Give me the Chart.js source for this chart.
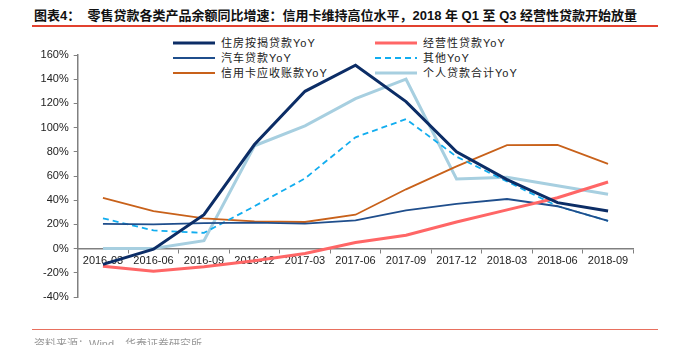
<!DOCTYPE html>
<html>
<head>
<meta charset="utf-8">
<script src="https://cdn.jsdelivr.net/npm/chart.js@4.4.1/dist/chart.umd.min.js"></script>
<style>
  html, body { margin: 0; padding: 0; background: #fff; }
  #wrap { position: relative; width: 673px; height: 345px; overflow: hidden; font-family: "Liberation Sans", Arial, sans-serif; }
  #chart { position: absolute; left: 0; top: 0; }
  .title { position: absolute; left: 34px; top: 8px; font-size: 13px; font-weight: bold; line-height: 16px; color: #111; white-space: nowrap;
           font-family: "Liberation Sans", Arial, "Noto Sans CJK SC", sans-serif; }
  .rule { position: absolute; left: 32px; width: 626px; height: 1.5px; background: #e2412f; }
  .source { position: absolute; left: 34px; top: 335px; font-size: 11px; color: #999; white-space: nowrap;
            font-family: "Liberation Sans", Arial, "Noto Sans CJK SC", sans-serif; }
  .leg { position: absolute; height: 14px; font-size: 11px; line-height: 14px; color: #222; white-space: nowrap;
         font-family: "Liberation Sans", Arial, "Noto Sans CJK SC", sans-serif; letter-spacing: 1px; }
  .leg svg { position: absolute; left: 0; top: 0; }
  .leg span { position: absolute; left: 48px; top: 0; }
</style>
</head>
<body>
<div id="wrap">
  <div class="title">图表4：&nbsp;&nbsp;零售贷款各类产品余额同比增速：信用卡维持高位水平，2018 年 Q1 至 Q3 经营性贷款开始放量</div>
  <div class="rule" style="top:25px"></div>
  <div id="legend"></div>
  <canvas id="chart" width="673" height="345"></canvas>
  <div class="rule" style="top:328.5px; background:#e8705f"></div>
  <div class="source">资料来源：Wind，华泰证券研究所</div>
</div>
<script>
// data (%)
const categories = ['2016-03', '2016-06', '2016-09', '2016-12', '2017-03', '2017-06',
                    '2017-09', '2017-12', '2018-03', '2018-06', '2018-09'];
const seriesNames = ['住房按揭贷款YoY', '经营性贷款YoY', '汽车贷款YoY', '其他YoY', '信用卡应收账款YoY', '个人贷款合计YoY'];
const mortgage   = [-13, -0.5, 28, 86, 130, 151.5, 121.5, 80, 57, 38, 31];
const business   = [-14.5, -18.7, -15, -10, -4, 5, 11, 22, 32, 42, 55];
const autoLoan   = [20.4, 20, 21, 21.5, 20.6, 23.4, 31.6, 37, 41, 35, 23];
const other      = [25, 15, 13, 35, 58, 92, 107, 76, 55.5, 35, 23];
const creditCard = [42, 31, 25, 22.5, 22, 28, 49, 68, 85.5, 85.7, 70];
const total      = [0, 0, 6.6, 85, 101.5, 124, 140, 57.5, 59, 52, 45];
const yTicks = [-40, -20, 0, 20, 40, 60, 80, 100, 120, 140, 160];

const colors = ['#0c2d66', '#ff6666', '#1f4e8c', '#12adef', '#c8611a', '#a7cfe0'];
const widths = [3, 3, 1.8, 1.8, 1.8, 3];
const dashes = [[], [], [], [6, 4], [], []];
const values = [mortgage, business, autoLoan, other, creditCard, total];

const datasets = seriesNames.map((name, i) => ({
  label: name,
  data: values[i],
  borderColor: colors[i],
  backgroundColor: colors[i],
  borderWidth: widths[i],
  borderDash: dashes[i],
  pointRadius: 0,
  tension: 0,
  fill: false
}));

// legend in two columns, three rows
const legendPos = [[173, 36], [375, 36], [173, 51], [375, 51], [173, 66], [375, 66]];
const legendEl = document.getElementById('legend');
datasets.forEach((ds, i) => {
  const item = document.createElement('div');
  item.className = 'leg';
  item.style.left = legendPos[i][0] + 'px';
  item.style.top = legendPos[i][1] + 'px';
  item.innerHTML = '<svg width="44" height="14"><line x1="0" y1="7" x2="42" y2="7" stroke="' + ds.borderColor +
    '" stroke-width="' + ds.borderWidth + '"' + (ds.borderDash.length ? ' stroke-dasharray="' + ds.borderDash.join(',') + '"' : '') +
    '/></svg><span>' + ds.label + '</span>';
  legendEl.appendChild(item);
});

const axisGrey = '#808080';
const ctx = document.getElementById('chart').getContext('2d');
new Chart(ctx, {
  type: 'line',
  data: { labels: categories, datasets: datasets },
  options: {
    responsive: false,
    animation: false,
    layout: { padding: { left: 0, top: 55, right: 39.7, bottom: 48 } },
    plugins: { legend: { display: false }, tooltip: { enabled: false } },
    scales: {
      x: {
        position: { y: 0 },
        offset: true,
        grid: { display: true, offset: true, drawOnChartArea: false, tickLength: 4, color: axisGrey, lineWidth: 1 },
        border: { display: true, color: axisGrey, width: 1.5 },
        ticks: { color: '#222', font: { size: 11, family: '"Liberation Sans", Arial' }, padding: 2, maxRotation: 0, autoSkip: false },
        afterFit: scale => { scale.height = 0; }
      },
      y: {
        min: -40,
        max: 160,
        afterBuildTicks: scale => { scale.ticks = yTicks.map(v => ({ value: v })); },
        grid: { display: true, drawOnChartArea: false, tickLength: 4, color: axisGrey, lineWidth: 1 },
        border: { display: true, color: axisGrey, width: 1.5 },
        ticks: { color: '#222', font: { size: 11, family: '"Liberation Sans", Arial' }, padding: 5, callback: v => v + '%' },
        afterFit: scale => { scale.width = 77.7; }
      }
    }
  }
});
</script>
</body>
</html>
